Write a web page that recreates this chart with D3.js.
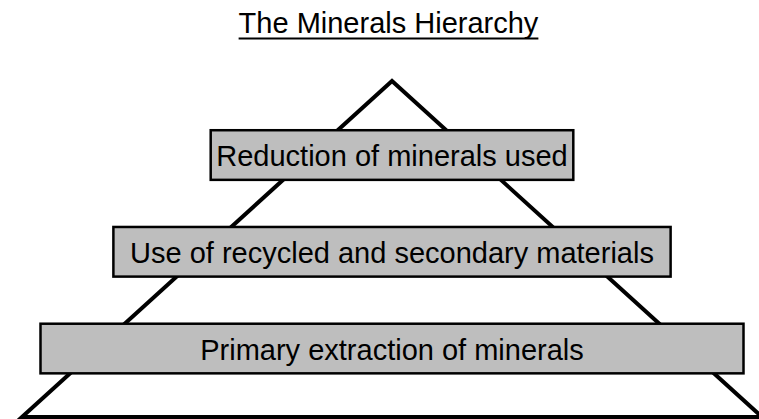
<!DOCTYPE html>
<html>
<head>
<meta charset="utf-8">
<script src="https://cdn.jsdelivr.net/npm/d3@7"></script>
<style>
  body { margin: 0; background: white; }
  svg { display: block; font-family: 'Liberation Sans', Arial, Helvetica, sans-serif; }
</style>
</head>
<body>
<svg id="chart"></svg>
<script>
let title = 'The Minerals Hierarchy';

// levels from top of the pyramid to the bottom
let levels = [
  'Reduction of minerals used',
  'Use of recycled and secondary materials',
  'Primary extraction of minerals'
];

// width of each box as a share of the pyramid base (percent)
let levelWidths = [49, 75.3, 95];

function createGraph() {
  let width = 759;
  let height = 419;

  let svg = d3.select('#chart');
  svg.selectAll('*').remove();

  svg
    .attr('width', width)
    .attr('height', height)
    .attr('viewBox', `0 0 ${width} ${height}`)
    .style('background', 'white');

  // x: -50..50 across the pyramid base, 0 at the apex
  let xScale = d3.scaleLinear()
    .domain([-50, 50])
    .range([22, 762]);

  // y: one band for each level between apex and base
  let yScale = d3.scaleBand()
    .domain(levels)
    .range([81, 417])
    .paddingInner(0.487)
    .paddingOuter(0.48)
    .align(0.53);

  let [apexY, baseY] = yScale.range();

  // title with underline
  let t = svg.append('text')
    .attr('x', 388.5)
    .attr('y', 33)
    .attr('text-anchor', 'middle')
    .style('font-size', '29px')
    .style('fill', 'black')
    .text(title);

  let tw = t.node().getComputedTextLength();
  svg.append('line')
    .attr('x1', 388.5 - tw / 2)
    .attr('x2', 388.5 + tw / 2)
    .attr('y1', 38.5)
    .attr('y2', 38.5)
    .attr('stroke', 'black')
    .attr('stroke-width', 2);

  // the pyramid
  let tri = [[xScale(-50), baseY], [xScale(0), apexY], [xScale(50), baseY]];
  svg.append('path')
    .attr('d', d3.line()(tri) + 'Z')
    .attr('fill', 'none')
    .attr('stroke', 'black')
    .attr('stroke-width', 4)
    .attr('stroke-linejoin', 'miter');

  // level boxes
  let g = svg.selectAll('g.level')
    .data(levels)
    .enter()
    .append('g')
    .attr('class', 'level');

  g.append('rect')
    .attr('x', (d, i) => xScale(-levelWidths[i] / 2))
    .attr('y', d => yScale(d))
    .attr('width', (d, i) => xScale(levelWidths[i] / 2) - xScale(-levelWidths[i] / 2))
    .attr('height', yScale.bandwidth())
    .attr('fill', '#bebebe')
    .attr('stroke', 'black')
    .attr('stroke-width', 2.5);

  g.append('text')
    .attr('x', xScale(0))
    .attr('y', d => yScale(d) + yScale.bandwidth() / 2 + 11)
    .attr('text-anchor', 'middle')
    .style('font-size', '29px')
    .style('fill', 'black')
    .text(d => d);
}

createGraph();
</script>
</body>
</html>
